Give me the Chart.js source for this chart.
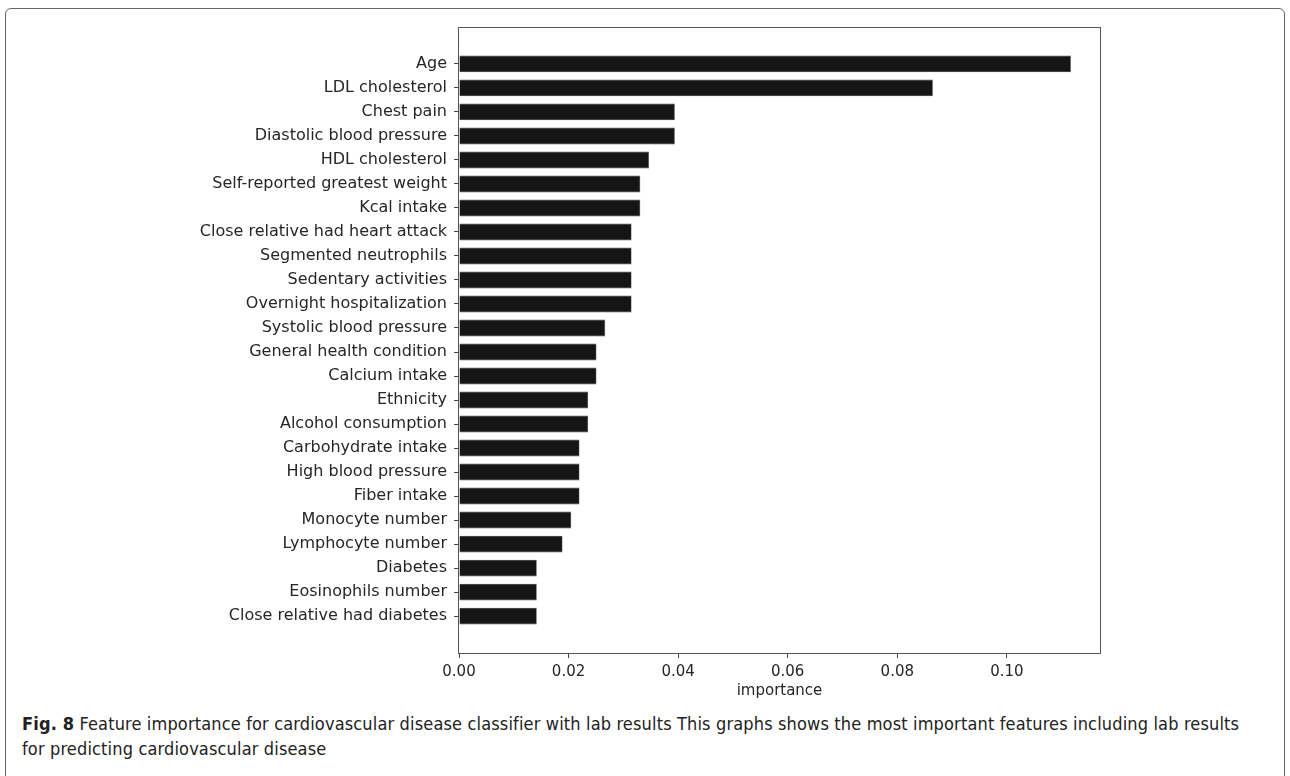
<!DOCTYPE html>
<html>
<head>
<meta charset="utf-8">
<script src="https://cdn.jsdelivr.net/npm/chart.js@4/dist/chart.umd.min.js"></script>
<style>
  body { margin: 0; background: #fff; width: 1290px; height: 776px; overflow: hidden; position: relative; }
  #frame { position: absolute; left: 5px; top: 8px; width: 1278px; height: 800px;
           border: 1px solid #666; border-radius: 6px; }
  #chart { position: absolute; left: 0; top: 0; }
  #caption { position: absolute; left: 22px; top: 711px; width: 1225px;
             font-family: "DejaVu Sans Condensed", "Liberation Sans", sans-serif;
             font-stretch: condensed; letter-spacing: 0.15px;
             font-size: 18px; line-height: 25px; color: #222; }
  #caption b { font-weight: bold; }
</style>
</head>
<body>
<div id="frame"></div>
<canvas id="chart" width="1290" height="700"></canvas>
<div id="caption"><b>Fig. 8</b> Feature importance for cardiovascular disease classifier with lab results This graphs shows the most important features including lab results for predicting cardiovascular disease</div>
<script>
// feature importance, top to bottom
var features = ["Age", "LDL cholesterol", "Chest pain", "Diastolic blood pressure", "HDL cholesterol",
    "Self-reported greatest weight", "Kcal intake", "Close relative had heart attack", "Segmented neutrophils",
    "Sedentary activities", "Overnight hospitalization", "Systolic blood pressure", "General health condition",
    "Calcium intake", "Ethnicity", "Alcohol consumption", "Carbohydrate intake", "High blood pressure",
    "Fiber intake", "Monocyte number", "Lymphocyte number", "Diabetes", "Eosinophils number",
    "Close relative had diabetes"];
var importance = [0.1117, 0.0865, 0.0394, 0.0394, 0.0347, 0.0331, 0.0331, 0.0315, 0.0315, 0.0315, 0.0315,
    0.0267, 0.0251, 0.0251, 0.0236, 0.0236, 0.0220, 0.0220, 0.0220, 0.0205, 0.0189, 0.0142, 0.0142, 0.0142];
var xTicks = [0, 0.02, 0.04, 0.06, 0.08, 0.10];

var points = features.map(function (f, i) { return { x: importance[i], y: i }; });

// box around the plot area, like matplotlib's spines
var frameBox = {
    id: 'frameBox',
    afterDraw: function (chart) {
        var a = chart.chartArea, c = chart.ctx;
        c.save();
        c.strokeStyle = '#555';
        c.lineWidth = 1;
        c.strokeRect(Math.round(a.left) - 0.5, Math.round(a.top) + 0.5,
            Math.round(a.right - a.left) + 1, Math.round(a.bottom - a.top));
        c.restore();
    }
};

var ctx = document.getElementById('chart').getContext('2d');
var chart = new Chart(ctx, {
    type: 'bar',
    data: {
        datasets: [{
            data: points,
            backgroundColor: '#151515',
            borderColor: '#555',
            borderWidth: 0.6,
            barPercentage: 0.7,
            categoryPercentage: 1.0
        }]
    },
    options: {
        indexAxis: 'y',
        responsive: false,
        animation: false,
        devicePixelRatio: 1,
        layout: { padding: { top: 27, right: 190, left: 0, bottom: 0 } },
        plugins: { legend: { display: false }, tooltip: { enabled: false } },
        scales: {
            y: {
                type: 'linear',
                reverse: true,
                offset: false,
                bounds: 'data',
                min: -1.54,
                max: features.length - 1 + 1.54,
                afterBuildTicks: function (scale) {
                    scale.ticks = features.map(function (f, i) { return { value: i }; });
                },
                afterFit: function (scale) { scale.width = 459; },
                border: { display: false },
                grid: { offset: false, drawOnChartArea: false, drawTicks: true, tickLength: 5, color: '#444' },
                ticks: {
                    autoSkip: false,
                    padding: 7,
                    color: '#262626',
                    font: { family: 'DejaVu Sans', size: 16 },
                    callback: function (v) { return features[v]; }
                }
            },
            x: {
                type: 'linear',
                bounds: 'data',
                min: 0,
                max: 0.117,
                afterBuildTicks: function (scale) {
                    scale.ticks = xTicks.map(function (v) { return { value: v }; });
                },
                afterFit: function (scale) { scale.height = 47; },
                border: { display: false },
                grid: { drawOnChartArea: false, drawTicks: true, tickLength: 5, color: '#444' },
                ticks: {
                    padding: 5,
                    color: '#262626',
                    font: { family: 'DejaVu Sans', size: 15 },
                    callback: function (v) { return v.toFixed(2); }
                },
                title: {
                    display: true,
                    text: 'importance',
                    color: '#262626',
                    font: { family: 'DejaVu Sans', size: 15 },
                    padding: { top: 0, bottom: 0 }
                }
            }
        }
    },
    plugins: [frameBox]
});
</script>
</body>
</html>
